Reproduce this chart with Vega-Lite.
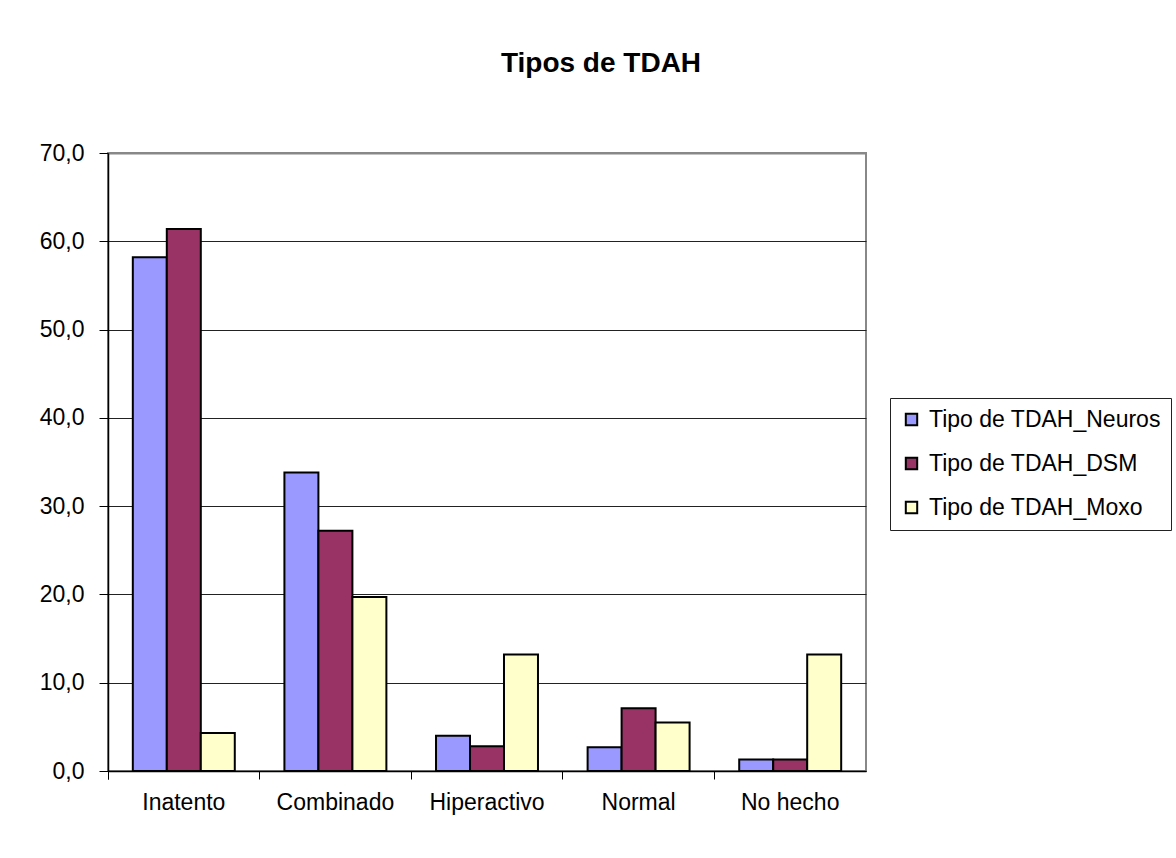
{
  "$schema": "https://vega.github.io/schema/vega-lite/v6.json",
  "autosize": {"type": "none"},
  "width": 758,
  "height": 618,
  "padding": {"left": 108, "top": 153, "right": 310, "bottom": 87},
  "background": "white",
  "title": {
    "text": "Tipos de TDAH",
    "font": "Liberation Sans",
    "fontSize": 28,
    "fontWeight": "bold",
    "color": "black",
    "anchor": "middle",
    "frame": "group",
    "dx": 114,
    "baseline": "bottom",
    "offset": 36
  },
  "data": {
    "values": [
      {"cat": "Inatento", "serie": "Tipo de TDAH_Neuros", "valor": 58.2},
      {"cat": "Inatento", "serie": "Tipo de TDAH_DSM", "valor": 61.4},
      {"cat": "Inatento", "serie": "Tipo de TDAH_Moxo", "valor": 4.3},
      {"cat": "Combinado", "serie": "Tipo de TDAH_Neuros", "valor": 33.8},
      {"cat": "Combinado", "serie": "Tipo de TDAH_DSM", "valor": 27.2},
      {"cat": "Combinado", "serie": "Tipo de TDAH_Moxo", "valor": 19.7},
      {"cat": "Hiperactivo", "serie": "Tipo de TDAH_Neuros", "valor": 4.0},
      {"cat": "Hiperactivo", "serie": "Tipo de TDAH_DSM", "valor": 2.8},
      {"cat": "Hiperactivo", "serie": "Tipo de TDAH_Moxo", "valor": 13.2},
      {"cat": "Normal", "serie": "Tipo de TDAH_Neuros", "valor": 2.7},
      {"cat": "Normal", "serie": "Tipo de TDAH_DSM", "valor": 7.1},
      {"cat": "Normal", "serie": "Tipo de TDAH_Moxo", "valor": 5.5},
      {"cat": "No hecho", "serie": "Tipo de TDAH_Neuros", "valor": 1.3},
      {"cat": "No hecho", "serie": "Tipo de TDAH_DSM", "valor": 1.3},
      {"cat": "No hecho", "serie": "Tipo de TDAH_Moxo", "valor": 13.2}
    ]
  },
  "mark": {"type": "bar", "stroke": "black", "strokeWidth": 2},
  "encoding": {
    "x": {
      "field": "cat",
      "type": "nominal",
      "sort": ["Inatento", "Combinado", "Hiperactivo", "Normal", "No hecho"],
      "scale": {"paddingInner": 0, "paddingOuter": 0},
      "axis": {
        "title": null,
        "labelAngle": 0,
        "labelFont": "Liberation Sans",
        "labelFontSize": 23,
        "labelColor": "black",
        "labelPadding": 12,
        "bandPosition": 0,
        "tickExtra": true,
        "tickSize": 8,
        "tickColor": "black",
        "domainColor": "black",
        "domainWidth": 1.5,
        "grid": false
      }
    },
    "xOffset": {
      "field": "serie",
      "sort": ["Tipo de TDAH_Neuros", "Tipo de TDAH_DSM", "Tipo de TDAH_Moxo"],
      "scale": {"paddingInner": 0, "paddingOuter": 0.73}
    },
    "y": {
      "field": "valor",
      "type": "quantitative",
      "scale": {"domain": [0, 70], "nice": false},
      "axis": {
        "title": null,
        "values": [0, 10, 20, 30, 40, 50, 60, 70],
        "labelExpr": "replace(format(datum.value, '.1f'), '.', ',')",
        "labelFont": "Liberation Sans",
        "labelFontSize": 23,
        "labelColor": "black",
        "labelPadding": 15,
        "tickSize": 9,
        "tickColor": "black",
        "domainColor": "black",
        "domainWidth": 1.5,
        "grid": true,
        "gridColor": {"condition": {"test": "datum.value == 70", "value": "#888888"}, "value": "#222222"},
        "gridWidth": {"condition": {"test": "datum.value == 70", "value": 2}, "value": 1}
      }
    },
    "fill": {
      "field": "serie",
      "type": "nominal",
      "sort": ["Tipo de TDAH_Neuros", "Tipo de TDAH_DSM", "Tipo de TDAH_Moxo"],
      "scale": {
        "domain": ["Tipo de TDAH_Neuros", "Tipo de TDAH_DSM", "Tipo de TDAH_Moxo"],
        "range": ["#9999FF", "#993366", "#FFFFCC"]
      },
      "legend": {
        "title": null,
        "orient": "none",
        "legendX": 782,
        "legendY": 245,
        "strokeColor": "#222222",
        "fillColor": "white",
        "padding": 10,
        "symbolType": "square",
        "symbolSize": 130,
        "symbolStrokeColor": "black",
        "symbolStrokeWidth": 2,
        "labelFont": "Liberation Sans",
        "labelFontSize": 23,
        "labelColor": "black",
        "labelOffset": 6,
        "rowPadding": 20,
        "labelLimit": 400
      }
    }
  },
  "config": {
    "view": {"stroke": "#888888", "strokeWidth": 2}
  }
}
